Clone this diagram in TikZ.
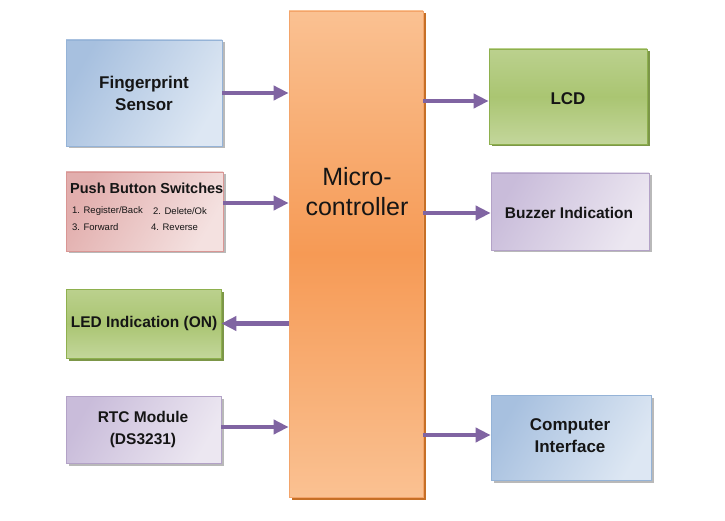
\documentclass[tikz,border=0pt]{standalone}
\usepackage{fontspec}
\setmainfont{Liberation Sans}
\usetikzlibrary{shadows,arrows.meta}
\definecolor{arrowc}{HTML}{8064A2}
\definecolor{blueD}{HTML}{A7C0DF}
\definecolor{blueL}{HTML}{DDE7F3}
\definecolor{blueB}{HTML}{95B3D7}
\definecolor{pinkD}{HTML}{E2AEAD}
\definecolor{pinkL}{HTML}{F4E1E0}
\definecolor{pinkB}{HTML}{D99694}
\definecolor{purD}{HTML}{C9BCDA}
\definecolor{purL}{HTML}{ECE7F1}
\definecolor{purB}{HTML}{B3A2C7}
\definecolor{grnD}{HTML}{9BBB59}
\definecolor{grnL}{HTML}{C3D69B}
\definecolor{grnB}{HTML}{8EB04E}
\definecolor{grnS}{HTML}{6E8B35}
\definecolor{orD}{HTML}{F69A55}
\definecolor{orL}{HTML}{FAC192}
\definecolor{orB}{HTML}{F3A46A}
\definecolor{orS}{HTML}{C0600F}
\definecolor{txt}{HTML}{151515}
\begin{document}
\begin{tikzpicture}[x=1pt,y=-1pt,
  box/.style={draw, line width=0.7pt, inner sep=0pt, anchor=center},
  gshadow/.style={drop shadow={shadow xshift=2.5pt, shadow yshift=-2.5pt, fill=black!50, opacity=0.55}},
  bluebox/.style={box, gshadow, draw=blueB, left color=blueD, right color=blueL, shading angle=60},
  pinkbox/.style={box, gshadow, draw=pinkB, left color=pinkD, right color=pinkL, shading angle=60},
  purbox/.style={box, gshadow, draw=purB, left color=purD, right color=purL, shading angle=60},
  grnbox/.style={box, drop shadow={shadow xshift=2.5pt, shadow yshift=-2.5pt, fill=grnS, opacity=0.9}, draw=grnB, top color=grnL!80!grnD, bottom color=grnL, middle color=grnD!85!white},
  mcbox/.style={box, drop shadow={shadow xshift=2.5pt, shadow yshift=-2.5pt, fill=orS, opacity=0.9}, draw=orB, top color=orL, bottom color=orL, middle color=orD},
  lbl/.style={font=\bfseries\fontsize{17}{22}\selectfont, text=txt, align=center, inner sep=0pt},
  lbls/.style={font=\bfseries\fontsize{15.5}{22}\selectfont, text=txt, align=center, inner sep=0pt},
  item/.style={font=\fontsize{9.5}{11}\selectfont, text=txt, anchor=west, inner sep=0pt},
  arr/.style={draw=arrowc, line width=4.5pt, -{Triangle[length=15pt,width=14pt]}}
]
\useasboundingbox (0,0) rectangle (725,521);
\fill[white] (0,0) rectangle (725,521);

% boxes
\node[bluebox, minimum width=156pt, minimum height=106pt] (fp) at (144,93) {};
\node[pinkbox, minimum width=157pt, minimum height=79pt] (pb) at (144.5,211.5) {};
\node[grnbox, minimum width=155pt, minimum height=69pt] (led) at (143.5,323.5) {};
\node[purbox, minimum width=155pt, minimum height=67pt] (rtc) at (143.5,429.5) {};
\node[mcbox, minimum width=134pt, minimum height=486pt] (mc) at (356,254) {};
\node[grnbox, minimum width=158pt, minimum height=95pt] (lcd) at (568,96.5) {};
\node[purbox, minimum width=158pt, minimum height=77pt] (bz) at (570,211.5) {};
\node[bluebox, minimum width=160pt, minimum height=85pt] (ci) at (571,437.5) {};

% labels
\node[lbl] (fpt) at (144,93) {Fingerprint\\Sensor};
\node[font=\bfseries\fontsize{14.5}{17}\selectfont, text=txt, anchor=west, inner sep=0pt] (pbt) at (70,188) {Push Button Switches};
\node[item] (i1) at (72,211) {1. Register/Back};
\node[item] (i2) at (153,211) {2. Delete/Ok};
\node[item] (i3) at (72,227) {3. Forward};
\node[item] (i4) at (151,227) {4. Reverse};
\node[lbls] (ledt) at (144,323) {LED Indication (ON)};
\node[lbls] (rtct) at (143,429) {RTC Module\\(DS3231)};
\node[font=\fontsize{25}{30}\selectfont, text=txt, align=center, inner sep=0pt] (mct) at (357,192) {Micro-\\controller};
\node[lbl] (lcdt) at (568,99) {LCD};
\node[lbls] (bzt) at (569,213) {Buzzer Indication};
\node[lbl] (cit) at (570,436) {Computer\\Interface};

% arrows
\draw[arr] (fp.east) -- (fp.east -| mc.west);
\draw[arr] ([yshift=8.5pt]pb.east) -- ([yshift=8.5pt]pb.east -| mc.west);
\draw[arr] (led.east -| mc.west) -- (led.east);
\draw[arr] ([yshift=2.5pt]rtc.east) -- ([yshift=2.5pt]rtc.east -| mc.west);
\draw[arr] ([yshift=-4.5pt]lcd.west -| mc.east) -- ([yshift=-4.5pt]lcd.west);
\draw[arr] ([yshift=-1.5pt]bz.west -| mc.east) -- ([yshift=-1.5pt]bz.west);
\draw[arr] ([yshift=2.5pt]ci.west -| mc.east) -- ([yshift=2.5pt]ci.west);
\end{tikzpicture}
\end{document}
